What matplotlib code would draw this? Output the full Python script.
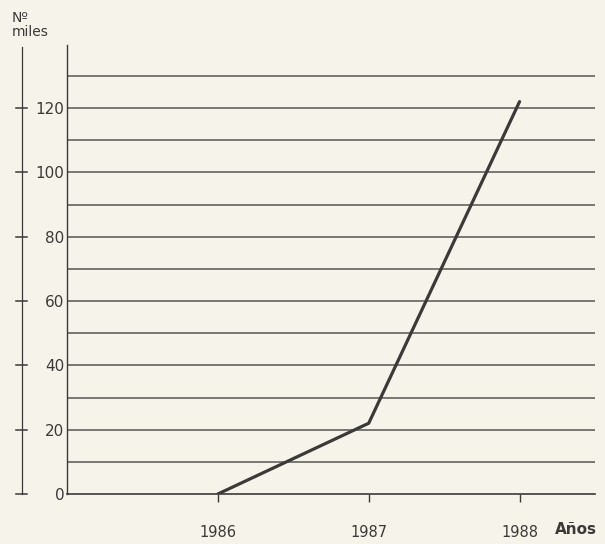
import numpy as np
import matplotlib
matplotlib.use('agg')
import matplotlib.pyplot as plt
import matplotlib.transforms as mtransforms

# values
years = [1986, 1987, 1988]
miles = [0, 22, 122]
label_ticks = [0, 20, 40, 60, 80, 100, 120]
grid_levels = np.arange(10, 140, 10)

ink = '#3c3a38'
paper = '#f6f3ea'

fig = plt.figure(figsize=(6.05, 5.44), dpi=100, facecolor=paper)
ax = fig.add_axes([67/605, 50/544, 528/605, 449/544])
ax.set_facecolor(paper)

ax.set_xlim(1985.0, 1988.5)
ax.set_ylim(0, 139.6)

# horizontal rules every 10
for g in grid_levels:
	ax.axhline(g, color=ink, lw=1.1, alpha=0.85)

ax.plot(years, miles, color=ink, lw=2.3, solid_capstyle='round')

for s in ['top', 'right']:
	ax.spines[s].set_visible(False)
ax.spines['left'].set_color(ink)
ax.spines['bottom'].set_color(ink)
ax.spines['left'].set_linewidth(1.0)
ax.spines['bottom'].set_linewidth(1.2)

ax.set_yticks(label_ticks)
ax.set_yticklabels([str(v) for v in label_ticks], color=ink, fontsize=11)
ax.tick_params(axis='y', length=0, pad=2)

ax.set_xticks(years)
ax.set_xticklabels([str(y) for y in years], color=ink, fontsize=10.5)
ax.tick_params(axis='x', length=6, width=1, color=ink, pad=16, direction='out')

# second scale line on the left with cross ticks
trans = mtransforms.blended_transform_factory(ax.transAxes, ax.transData)
sx = -45/528
ax.plot([sx, sx], [0, 139.0], color=ink, lw=0.9, transform=trans, clip_on=False)
for v in label_ticks:
	ax.plot([sx - 6/528, sx + 5/528], [v, v], color=ink, lw=1.1, transform=trans, clip_on=False)

fig.text(555/605, 1 - 530/544, 'Años', color=ink, fontsize=11, fontweight='bold', va='center')
fig.text(12/605, 1 - 25/544, 'Nº\nmiles', color=ink, fontsize=10, va='center', linespacing=1.0)

fig.savefig('out.png', dpi=100, facecolor=paper)
